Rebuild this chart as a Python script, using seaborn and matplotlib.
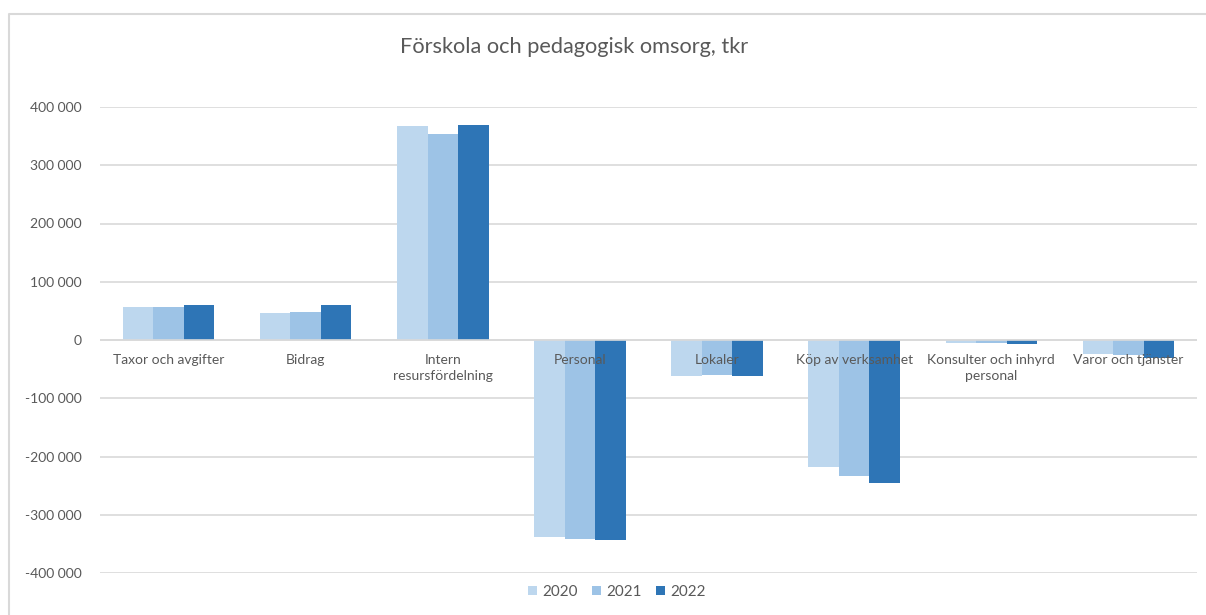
import numpy as np
import pandas as pd

import matplotlib
matplotlib.use("Agg")
import matplotlib.pyplot as plt
from matplotlib.lines import Line2D
from matplotlib.patches import Patch
from matplotlib.ticker import FuncFormatter
import seaborn as sns


categories = [
    "Taxor och avgifter",
    "Bidrag",
    "Intern\nresursfördelning",
    "Personal",
    "Lokaler",
    "Köp av verksamhet",
    "Konsulter och inhyrd\npersonal",
    "Varor och tjänster"
]

years = ["2020", "2021", "2022"]

values_2020 = [56000, 47000, 367000, -339000, -62000, -217500, -4500, -24000]
values_2021 = [56000, 48500, 353000, -341000, -60000, -233000, -5500, -25000]
values_2022 = [59500, 59500, 369500, -343000, -62000, -245000, -6300, -31000]

colors = ["#BDD7EE", "#9DC3E6", "#2E75B6"]
text_color = "#595959"
grid_color = "#D9D9D9"


df = pd.DataFrame({
    "Kategori": categories * 3,
    "År": [y for y in years for _ in categories],
    "Värde": values_2020 + values_2021 + values_2022
})

sns.set_theme(style="white")
plt.rcParams["font.family"] = ["Lato", "DejaVu Sans"]

fig = plt.figure(figsize=(12.06, 6.15), dpi=100)
ax = fig.add_axes([100 / 1206, 1 - 573 / 615, 1097 / 1206, 466 / 615])

sns.barplot(
    data=df,
    x="Kategori",
    y="Värde",
    hue="År",
    palette=colors,
    saturation=1,
    width=0.667,
    linewidth=0,
    legend=False,
    ax=ax
)

ax.set_ylim(-400000, 400000)
ax.set_xlim(-0.5, len(categories) - 0.5)
ax.set_yticks(np.arange(-400000, 400001, 100000))
ax.yaxis.set_major_formatter(
    FuncFormatter(lambda v, p: f"{int(v):,}".replace(",", " "))
)
ax.tick_params(axis="y", length=0, pad=13, labelsize=10, labelcolor=text_color)
ax.set_xticks([])
ax.set_xlabel("")
ax.set_ylabel("")

ax.grid(axis="y", color=grid_color, linewidth=1.2, zorder=0)
ax.set_axisbelow(True)
ax.axhline(0, color=grid_color, linewidth=1.2, zorder=1)

for spine in ax.spines.values():
    spine.set_visible(False)

for i, cat in enumerate(categories):
    ax.annotate(
        cat,
        xy=(i, 0),
        xytext=(0, -10),
        textcoords="offset points",
        ha="center",
        va="top",
        fontsize=10,
        color=text_color,
        linespacing=1.4,
        zorder=5
    )

fig.text(
    574 / 1206, 1 - 47 / 615,
    "Förskola och pedagogisk omsorg, tkr",
    ha="center", va="center",
    fontsize=15.7, color=text_color
)

handles = [Patch(facecolor=c, edgecolor="none", label=y) for c, y in zip(colors, years)]
fig.legend(
    handles=handles,
    loc="center",
    bbox_to_anchor=(617 / 1206, 1 - 592 / 615),
    ncol=3,
    frameon=False,
    fontsize=11,
    labelcolor=text_color,
    handlelength=0.6,
    handleheight=0.6,
    handletextpad=0.35,
    columnspacing=0.9
)

fig.add_artist(Line2D([9 / 1206, 9 / 1206, 1.0], [0.0, 1 - 14 / 615, 1 - 14 / 615],
                      transform=fig.transFigure, color=grid_color, linewidth=1.5))

fig.savefig("out.png", dpi=100, facecolor="white")
